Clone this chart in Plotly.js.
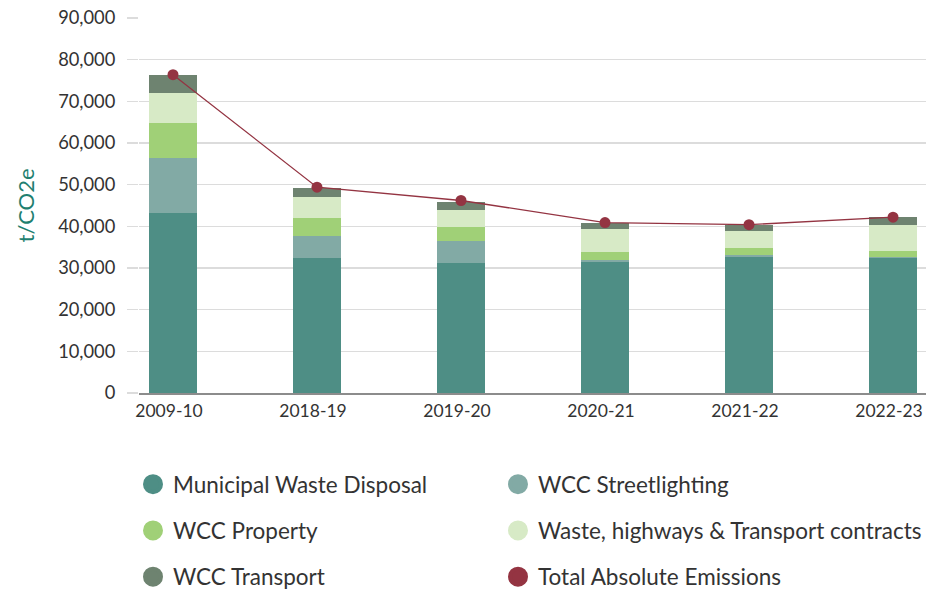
<!DOCTYPE html>
<html>
<head>
<meta charset="utf-8">
<script src="https://cdn.plot.ly/plotly-3.0.1.min.js"></script>
<style>html,body{margin:0;padding:0;background:#fff;}#chart{width:926px;height:589px;}</style>
</head>
<body>
<div id="chart"></div>
<script>
const years = ["2009-10", "2018-19", "2019-20", "2020-21", "2021-22", "2022-23"];
const municipalWaste = [43200, 32400, 31200, 31400, 32600, 32400];
const streetlighting = [13200, 5300, 5300, 500, 500, 300];
const property = [8400, 4300, 3300, 1900, 1700, 1500];
const contracts = [7200, 5000, 4100, 5600, 4100, 6200];
const transport = [4300, 2200, 1900, 1400, 1400, 1900];
const totalEmissions = [76400, 49400, 46200, 40900, 40400, 42200];

const seriesNames = ["Municipal Waste Disposal", "WCC Streetlighting", "WCC Property",
  "Waste, highways & Transport contracts", "WCC Transport", "Total Absolute Emissions"];
const colors = ["#4e8e85", "#82aaa5", "#a0d077", "#d7eac6", "#6e8370", "#943442"];
const barSeries = [municipalWaste, streetlighting, property, contracts, transport];
const legendFor = ["legend", "legend2", "legend", "legend2", "legend", "legend2"];

const traces = [];
barSeries.forEach((vals, i) => {
  traces.push({
    type: "bar", x: years, y: vals, name: seriesNames[i],
    marker: {color: colors[i], line: {width: 0}}, width: 0.333,
    showlegend: false, hoverinfo: "y+name"
  });
});
traces.push({
  type: "scatter", mode: "lines+markers", x: years, y: totalEmissions,
  name: seriesNames[5], line: {color: colors[5], width: 1.3},
  marker: {color: colors[5], size: 11}, showlegend: false
});
// legend entries (circle symbols)
seriesNames.forEach((n, i) => {
  traces.push({
    type: "scatter", mode: "markers", x: [null], y: [null], name: n,
    marker: {color: colors[i], size: 16, symbol: "circle", line: {color: colors[i], width: 4}},
    legend: legendFor[i], legendgroup: "g" + i, showlegend: true, hoverinfo: "skip"
  });
});

// plot area: left 139, top 18, width 787, height 375
const legendBase = (xpx) => ({
  orientation: "v", xref: "paper", yref: "paper",
  x: (xpx - 139) / 787, y: (393 - 530.5) / 375, xanchor: "left", yanchor: "middle",
  traceorder: "grouped", tracegroupgap: 14,
  font: {family: "Lato, sans-serif", size: 22.5, color: "#333333"},
  bgcolor: "rgba(0,0,0,0)", itemclick: false, itemdoubleclick: false
});

const layout = {
  width: 926, height: 589,
  margin: {l: 139, r: 0, t: 18, b: 196, autoexpand: false},
  paper_bgcolor: "#ffffff", plot_bgcolor: "#ffffff",
  font: {family: "Lato, sans-serif", color: "#333333"},
  barmode: "stack", bargap: 0,
  xaxis: {
    type: "category", range: [-0.236, 5.229],
    showgrid: false, showline: true, linecolor: "#8c8c8c", linewidth: 2,
    ticks: "", ticklabelstandoff: 1, ticklabelshift: -4,
    tickfont: {family: "Lato, sans-serif", size: 17.5, color: "#333333"},
    fixedrange: true
  },
  yaxis: {
    range: [0, 90000], dtick: 10000, tickformat: ",d",
    showgrid: true, gridcolor: "#dcdcdc", gridwidth: 1.5,
    zeroline: false, showline: false,
    ticks: "outside", ticklen: 11, tickcolor: "#dcdcdc", tickwidth: 1.5,
    ticklabelstandoff: 8,
    tickfont: {family: "Lato, sans-serif", size: 18.3, color: "#333333"},
    title: {text: "t/CO2e", font: {family: "Lato, sans-serif", size: 22, color: "#1f7f70"}, standoff: 17},
    fixedrange: true
  },
  showlegend: true,
  legend: legendBase(133),
  legend2: legendBase(498)
};

Plotly.newPlot("chart", traces, layout, {displayModeBar: false, staticPlot: true});
</script>
</body>
</html>
